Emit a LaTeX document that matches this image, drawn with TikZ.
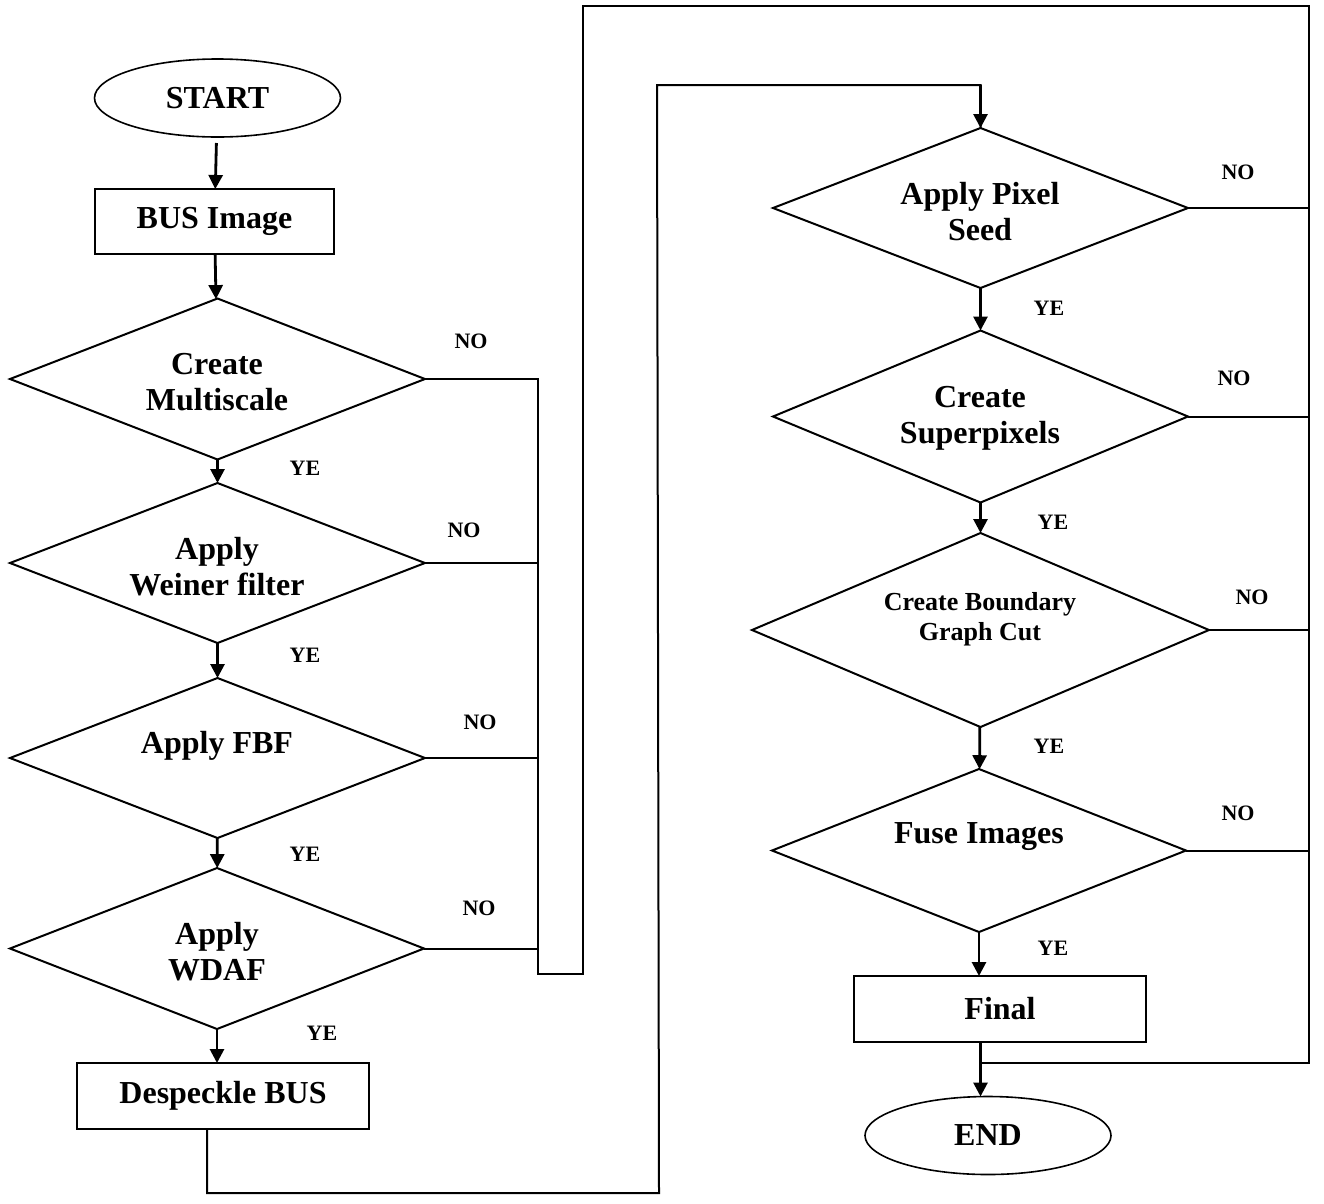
\documentclass[tikz,border=0pt]{standalone}
\usepackage{fontspec}
\setmainfont{Liberation Serif}
\usetikzlibrary{shapes.geometric,arrows.meta}
\begin{document}
\begin{tikzpicture}[x=1pt,y=-1pt,
  every node/.style={font=\bfseries},
  line/.style={line width=2pt},
  flow/.style={line width=2.8pt,-{Triangle[length=14pt,width=14pt]}},
  dec/.style={draw,diamond,line width=2pt,inner sep=0pt,outer sep=0pt,aspect=1},
  proc/.style={draw,rectangle,line width=2pt,inner sep=0pt,outer sep=0pt,
    font=\bfseries\fontsize{32}{36}\selectfont},
  term/.style={draw,ellipse,line width=1.6pt,inner sep=0pt,outer sep=0pt,
    minimum width=246pt,minimum height=78pt,font=\bfseries\fontsize{32}{36}\selectfont},
  txt/.style={align=center,inner sep=0pt,font=\bfseries\fontsize{32}{36}\selectfont},
  small/.style={align=center,inner sep=0pt,font=\bfseries\fontsize{26}{30}\selectfont},
  lbl/.style={inner sep=0pt,font=\bfseries\fontsize{22}{24}\selectfont}]
\useasboundingbox (0,0) rectangle (1324,1203);

% ---- left column ----
\node[term] (start) at (217.5,98) {START};
\node[proc,minimum width=239pt,minimum height=65pt] (bus) at (214.5,221.5) {BUS Image};

\node[dec,minimum width=415pt,minimum height=161pt] (d1) at (217.5,379) {};
\node[txt] (t1) at (217,382) {Create\\Multiscale};
\node[dec,minimum width=415pt,minimum height=160pt] (d2) at (217.5,563) {};
\node[txt] (t2) at (217,567) {Apply\\Weiner filter};
\node[dec,minimum width=415pt,minimum height=160pt] (d3) at (217.5,758) {};
\node[txt] (t3) at (217,746) {Apply FBF};
\node[dec,minimum width=414pt,minimum height=161pt] (d4) at (217,948.5) {};
\node[txt] (t4) at (217,952) {Apply\\WDAF};

\node[proc,minimum width=292pt,minimum height=66pt] (desp) at (223,1096) {Despeckle BUS};

% ---- right column ----
\node[dec,minimum width=415pt,minimum height=160pt] (d5) at (980.5,208) {};
\node[txt] (t5) at (980,212) {Apply Pixel\\Seed};
\node[dec,minimum width=415pt,minimum height=172pt] (d6) at (980.5,416.5) {};
\node[txt] (t6) at (980,418) {Create\\Superpixels};
\node[dec,minimum width=457pt,minimum height=194pt] (d7) at (980.5,630) {};
\node[small] (t7) at (980,619) {Create Boundary\\Graph Cut};
\node[dec,minimum width=414pt,minimum height=163pt] (d8) at (979,850.5) {};
\node[txt] (t8) at (979,837) {Fuse Images};

\node[proc,minimum width=292pt,minimum height=66pt] (final) at (1000,1009) {Final};
\node[term] (end) at (988,1135.5) {END};

% ---- YE / NO labels ----
\node[lbl] (n1) at (471,341) {NO};
\node[lbl] (y1) at (305,468) {YE};
\node[lbl] (n2) at (464,530) {NO};
\node[lbl] (y2) at (305,655) {YE};
\node[lbl] (n3) at (480,722) {NO};
\node[lbl] (y3) at (305,854) {YE};
\node[lbl] (n4) at (479,908) {NO};
\node[lbl] (y4) at (322,1033) {YE};
\node[lbl] (n5) at (1238,172) {NO};
\node[lbl] (y5) at (1049,308) {YE};
\node[lbl] (n6) at (1234,378) {NO};
\node[lbl] (y6) at (1053,522) {YE};
\node[lbl] (n7) at (1252,597) {NO};
\node[lbl] (y7) at (1049,746) {YE};
\node[lbl] (n8) at (1238,813) {NO};
\node[lbl] (y8) at (1053,948) {YE};

% ---- routing points ----
\coordinate (nb) at (537.5,974);   % foot of the NO collector
\coordinate (ob) at (582.5,974);   % foot of the outer return line
\coordinate (ot) at (582.5,6);     % top-left corner of the outer return
\coordinate (or) at (1309,6);      % top-right corner of the outer return
\coordinate (jn) at (980.5,1063);  % joins the Final -> END arrow
\coordinate (lb) at (659,1193);    % bottom of the feed to the right column
\coordinate (lt) at (657,85);      % top of the feed to the right column

% ---- main flow, left ----
\draw[flow,shorten <=6pt] (start) -- (bus);
\draw[flow] (bus) -- (d1);
\draw[flow] (d1) -- (d2);
\draw[flow] (d2) -- (d3);
\draw[flow] (d3) -- (d4);
\draw[flow] (d4.south) -- (d4.south |- desp.north);

% ---- feed from Despeckle BUS into the right column ----
\draw[line] ([xshift=-16pt]desp.south) |- (lb) -- (lt) -| (d5.north);
\draw[flow] (d5.north |- lt) -- (d5.north);

% ---- main flow, right ----
\draw[flow] (d5) -- (d6);
\draw[flow] (d6) -- (d7);
\draw[flow] (d7) -- (d8);
\draw[flow] (d8.south) -- (d8.south |- final.north);
\draw[flow] (final.south -| jn) -- (jn |- end.north);

% ---- NO branches ----
\draw[line] (d1.east) -| (nb) -- (ob) -- (ot) -- (or) |- (jn);
\draw[line] (d2.east) -- (d2.east -| nb);
\draw[line] (d3.east) -- (d3.east -| nb);
\draw[line] (d4.east) -- (d4.east -| nb);
\draw[line] (d5.east) -- (d5.east -| or);
\draw[line] (d6.east) -- (d6.east -| or);
\draw[line] (d7.east) -- (d7.east -| or);
\draw[line] (d8.east) -- (d8.east -| or);
\end{tikzpicture}
\end{document}
